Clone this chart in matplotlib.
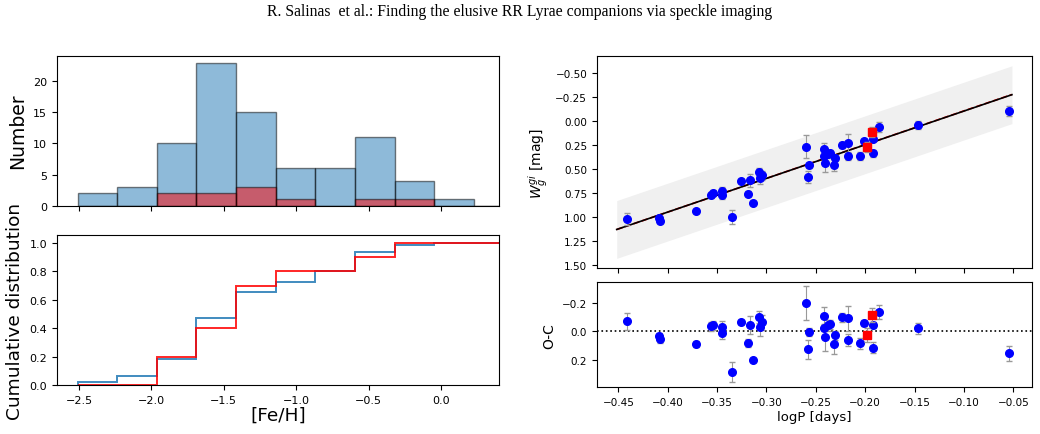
import numpy as np
import matplotlib
matplotlib.use('Agg')
from matplotlib import pyplot as plt

# [Fe/H] histogram (bin edges and counts)
fe_edges = np.linspace(-2.51, 0.50, 12)
n_all = [2, 3, 10, 23, 15, 6, 6, 11, 4, 1, 0]
n_comp = [0, 0, 2, 2, 3, 1, 0, 1, 1, 0, 0]

# PL relation: logP, W_g^gi, O-C and errors for the blue stars
logp = [-0.4416, -0.4086, -0.4079, -0.3715, -0.3564, -0.3540, -0.3453, -0.3446,
        -0.3345, -0.3254, -0.3190, -0.3170, -0.3136, -0.3079, -0.3069, -0.3049,
        -0.2601, -0.2571, -0.2577, -0.2419, -0.2416, -0.2412, -0.2382, -0.2355,
        -0.2311, -0.2315, -0.2237, -0.2170, -0.2177, -0.2049, -0.2015, -0.1924,
        -0.1918, -0.1860, -0.1463, -0.0544]
wmag = [1.021, 1.011, 1.039, 0.942, 0.767, 0.753, 0.729, 0.774,
        1.001, 0.626, 0.756, 0.619, 0.849, 0.533, 0.598, 0.567,
        0.268, 0.464, 0.584, 0.292, 0.371, 0.440, 0.345, 0.330,
        0.388, 0.460, 0.250, 0.230, 0.371, 0.364, 0.209, 0.188,
        0.340, 0.068, 0.047, -0.101]
oc = [-0.070, 0.037, 0.058, 0.089, -0.033, -0.040, -0.028, 0.012,
      0.288, -0.065, 0.082, -0.042, 0.201, -0.100, -0.028, -0.061,
      -0.199, 0.007, 0.129, -0.108, -0.023, 0.044, -0.040, -0.047,
      0.030, 0.094, -0.096, -0.089, 0.063, 0.087, -0.058, -0.042,
      0.117, -0.133, -0.019, 0.157]
err = [0.06, 0.025, 0.025, 0.02, 0.03, 0.03, 0.04, 0.04,
       0.07, 0.015, 0.03, 0.065, 0.01, 0.04, 0.06, 0.05,
       0.12, 0.03, 0.065, 0.06, 0.02, 0.095, 0.04, 0.03,
       0.03, 0.065, 0.03, 0.09, 0.04, 0.04, 0.02, 0.02,
       0.04, 0.05, 0.04, 0.055]

# red squares (stars with companions)
logp_r = [-0.1934, -0.1978]
wmag_r = [0.116, 0.275]
oc_r = [-0.111, 0.030]
err_r = [0.05, 0.05]

# fitted PL relations (solid black, dashed red) and their scatter band
fit_x = [-0.4517, -0.0514]
fit_a, fit_b = -0.450, -3.495
fit2_a, fit2_b = -0.452, -3.500
band = 0.30

fig = plt.figure(figsize=(10.4, 4.35), dpi=100)
fig.text(0.5, 0.972, 'R. Salinas  et al.: Finding the elusive RR Lyrae companions via speckle imaging',
         ha='center', va='center', family='Liberation Serif', fontsize=11.3)

# left: histograms
ax1 = fig.add_axes([0.0548, 0.525, 0.425, 0.345])
ax2 = fig.add_axes([0.0548, 0.1126, 0.425, 0.345], sharex=ax1)

w = np.diff(fe_edges)
ax1.bar(fe_edges[:-1], n_all, width=w, align='edge', color='C0', alpha=0.5, edgecolor='k')
ax1.bar(fe_edges[:-1], n_comp, width=w, align='edge', color='red', alpha=0.5, edgecolor='k')
ax1.set_ylabel('Number', fontsize=13.5)
ax1.tick_params(labelbottom=False, labelsize=8)

c_all = np.cumsum(n_all) / np.sum(n_all)
c_comp = np.cumsum(n_comp) / np.sum(n_comp)
ax2.stairs(c_all, fe_edges, color='C0', lw=1.4, alpha=0.85)
ax2.stairs(c_comp, fe_edges, color='red', lw=1.4, alpha=0.85)
ax2.set_xlim(-2.652, 0.40)
ax2.set_ylim(0, 1.056)
ax2.set_ylabel('Cumulative distribution', fontsize=13.3)
ax2.set_xlabel('[Fe/H]', fontsize=13.3, labelpad=1)
ax2.tick_params(labelsize=8)

# right: PL relation and residuals
ax3 = fig.add_axes([0.574, 0.3816, 0.418, 0.487])
ax4 = fig.add_axes([0.574, 0.108, 0.418, 0.241], sharex=ax3)

fx = np.array(fit_x)
ax3.fill_between(fx, fit_a + fit_b * fx - band, fit_a + fit_b * fx + band,
                 color='0.94', lw=0)
ax3.plot(fx, fit2_a + fit2_b * fx, 'r--', lw=1.2)
ax3.plot(fx, fit_a + fit_b * fx, 'k-', lw=1.2)
ax3.errorbar(logp, wmag, yerr=err, fmt='o', color='blue', ms=5.5,
             ecolor='0.6', elinewidth=0.8, capsize=2, zorder=3)
ax3.errorbar(logp_r, wmag_r, yerr=err_r, fmt='s', color='red', ms=5.5,
             ecolor='0.6', elinewidth=0.8, capsize=2, zorder=4)
ax3.invert_yaxis()
ax3.set_ylabel(r'$W_g^{gi}$ [mag]', fontsize=10)
ax3.tick_params(labelbottom=False, labelsize=7.5)

ax4.axhline(0, color='k', ls=':', lw=1.2)
ax4.errorbar(logp, oc, yerr=err, fmt='o', color='blue', ms=5.5,
             ecolor='0.6', elinewidth=0.8, capsize=2, zorder=3)
ax4.errorbar(logp_r, oc_r, yerr=err_r, fmt='s', color='red', ms=5.5,
             ecolor='0.6', elinewidth=0.8, capsize=2, zorder=4)
ax4.set_ylim(0.393, -0.344)
ax4.set_xlim(-0.4717, -0.0314)
ax4.set_ylabel('O-C', fontsize=10)
ax4.set_xlabel('logP [days]', fontsize=9.5, labelpad=2)
ax4.tick_params(labelsize=7.5)

fig.savefig('out.png', dpi=100)
